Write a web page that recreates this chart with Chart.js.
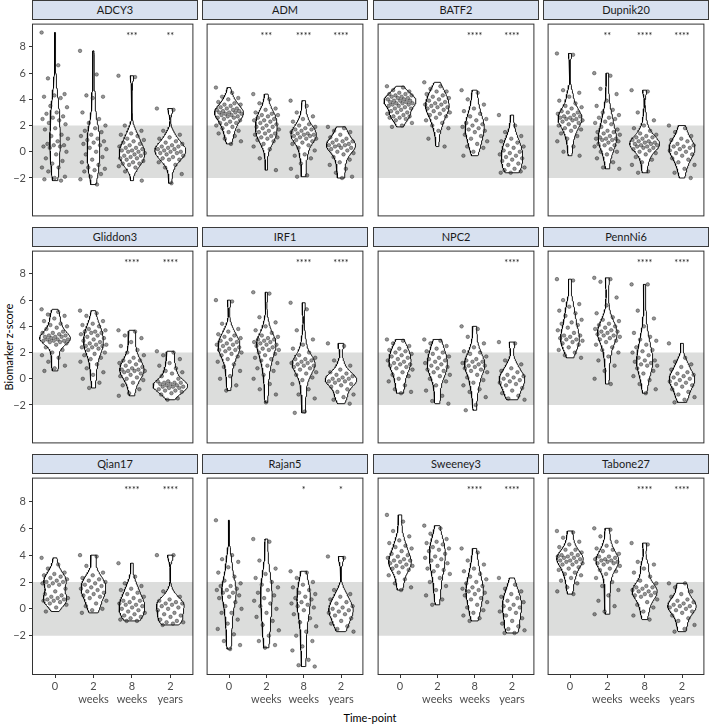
<!DOCTYPE html>
<html>
<head>
<meta charset="utf-8">
<script src="https://cdn.jsdelivr.net/npm/chart.js@4.4.1/dist/chart.umd.min.js"></script>
<style>
  body { margin: 0; background: #fff; width: 709px; height: 726px; position: relative; overflow: hidden; font-family: Lato, sans-serif; }
  .strip { position: absolute; height: 20px; background: #d8e1f0; border: 1px solid #3a3a3a; box-sizing: border-box; font-size: 11px; color: #1a1a1a; text-align: center; line-height: 18px; }
  canvas { position: absolute; }
  .ytitle { position: absolute; left: 8px; top: 347px; transform: translate(-50%, -50%) rotate(-90deg); font-size: 11px; color: #000; white-space: nowrap; }
  .xtitle { position: absolute; left: 370px; top: 717px; transform: translate(-50%, -50%); font-size: 11px; color: #000; white-space: nowrap; }
</style>
</head>
<body>
<div class="ytitle">Biomarker z-score</div>
<div class="xtitle">Time-point</div>
<script>
// panels and time-points
const markers = ['ADCY3', 'ADM', 'BATF2', 'Dupnik20', 'Gliddon3', 'IRF1', 'NPC2', 'PennNi6', 'Qian17', 'Rajan5', 'Sweeney3', 'Tabone27'];
const timepoints = [['0'], ['2', 'weeks'], ['8', 'weeks'], ['2', 'years']];
const yTicks = [-2, 0, 2, 4, 6, 8];
const bandLow = -2, bandHigh = 2;

// significance vs time-point 0
const stars = {
  ADCY3: ['', '', '***', '**'],
  ADM: ['', '***', '****', '****'],
  BATF2: ['', '', '****', '****'],
  Dupnik20: ['', '**', '****', '****'],
  Gliddon3: ['', '', '****', '****'],
  IRF1: ['', '', '****', '****'],
  NPC2: ['', '', '', '****'],
  PennNi6: ['', '', '****', '****'],
  Qian17: ['', '', '****', '****'],
  Rajan5: ['', '', '*', '*'],
  Sweeney3: ['', '', '****', '****'],
  Tabone27: ['', '', '****', '****']
};

// z-scores per time-point (0, 2 weeks, 8 weeks, 2 years)
const ADCY3 = [
  [9.1, 6.6, 5.6, 4.4, 4.3, 4.2, 4.1, 3.5, 3.4, 3.0, 2.9, 2.7, 2.6, 2.5, 2.4, 2.2, 2.1, 1.8, 1.7, 1.3, 1.2, 1.0, 0.8, 0.6, 0.5, 0.5, 0.4, 0.4, 0.3, 0.0, -0.2, -0.5, -0.7, -0.9, -1.2, -1.2, -1.5, -1.9, -2.0, -2.1, -2.2],
  [7.7, 5.9, 4.3, 4.2, 4.1, 3.0, 2.5, 2.2, 2.0, 1.8, 1.6, 1.5, 1.3, 1.2, 1.0, 0.9, 0.8, 0.7, 0.6, 0.5, 0.3, 0.2, 0.0, -0.2, -0.4, -0.6, -0.8, -1.0, -1.2, -1.3, -1.4, -1.5, -1.7, -1.9, -2.1, -2.5],
  [5.8, 5.7, 2.0, 1.6, 1.4, 1.3, 1.2, 1.0, 0.9, 0.8, 0.7, 0.6, 0.5, 0.4, 0.3, 0.3, 0.2, 0.1, 0.1, 0.0, 0.0, -0.1, -0.2, -0.3, -0.3, -0.4, -0.5, -0.5, -0.6, -0.7, -0.8, -0.9, -0.9, -1.0, -1.1, -1.2, -1.5, -2.2],
  [3.3, 3.2, 1.6, 1.3, 1.1, 1.0, 0.8, 0.7, 0.6, 0.5, 0.4, 0.4, 0.3, 0.2, 0.2, 0.1, 0.0, 0.0, -0.1, -0.1, -0.2, -0.3, -0.4, -0.5, -0.6, -0.6, -0.8, -1.0, -1.2, -1.7, -2.4]
];
const ADM = [
  [4.9, 4.5, 4.2, 4.1, 4.0, 3.8, 3.7, 3.6, 3.6, 3.5, 3.4, 3.3, 3.3, 3.2, 3.2, 3.1, 3.1, 3.0, 3.0, 3.0, 2.9, 2.9, 2.8, 2.8, 2.7, 2.7, 2.6, 2.6, 2.5, 2.4, 2.3, 2.2, 2.2, 2.1, 2.0, 1.9, 1.8, 1.6, 1.5, 1.4, 1.2, 1.0, 0.8, 0.6],
  [4.4, 4.0, 3.7, 3.3, 3.2, 3.0, 2.9, 2.8, 2.8, 2.7, 2.6, 2.5, 2.4, 2.4, 2.3, 2.2, 2.1, 2.0, 1.9, 1.9, 1.8, 1.7, 1.6, 1.5, 1.4, 1.4, 1.3, 1.2, 1.1, 1.1, 1.0, 0.9, 0.8, 0.6, 0.4, 0.2, -0.5, -1.4],
  [3.9, 3.5, 3.0, 2.7, 2.5, 2.3, 2.1, 2.0, 1.9, 1.8, 1.7, 1.7, 1.6, 1.5, 1.4, 1.4, 1.3, 1.3, 1.2, 1.2, 1.1, 1.0, 1.0, 0.9, 0.8, 0.7, 0.6, 0.5, 0.3, 0.1, -0.2, -0.3, -0.5, -0.9, -1.3, -1.8, -1.9],
  [1.9, 1.8, 1.6, 1.5, 1.3, 1.1, 1.0, 0.9, 0.8, 0.8, 0.7, 0.6, 0.5, 0.5, 0.5, 0.4, 0.3, 0.3, 0.2, 0.1, 0.0, -0.1, -0.2, -0.4, -0.6, -0.8, -1.0, -1.3, -1.6, -1.9, -2.0]
];
const BATF2 = [
  [5.0, 4.9, 4.7, 4.6, 4.5, 4.4, 4.4, 4.3, 4.3, 4.2, 4.2, 4.1, 4.1, 4.0, 4.0, 3.9, 3.9, 3.9, 3.8, 3.8, 3.7, 3.7, 3.7, 3.6, 3.6, 3.5, 3.5, 3.4, 3.3, 3.3, 3.2, 3.1, 3.0, 3.0, 2.9, 2.8, 2.7, 2.7, 2.6, 2.6, 2.5, 2.4, 2.2, 2.0, 1.9],
  [5.3, 5.0, 4.8, 4.6, 4.6, 4.4, 4.3, 4.2, 4.1, 4.0, 3.9, 3.8, 3.7, 3.6, 3.6, 3.5, 3.4, 3.4, 3.3, 3.2, 3.1, 3.0, 2.9, 2.8, 2.7, 2.6, 2.4, 2.2, 2.0, 1.8, 1.6, 1.0, 0.4],
  [4.7, 4.5, 4.0, 3.6, 3.3, 3.1, 2.9, 2.7, 2.5, 2.4, 2.2, 2.1, 2.0, 1.9, 1.8, 1.7, 1.6, 1.5, 1.3, 1.2, 1.0, 0.8, 0.6, 0.4, 0.3, 0.0, -0.3],
  [2.8, 2.0, 1.5, 1.2, 1.0, 0.8, 0.7, 0.5, 0.4, 0.3, 0.1, 0.0, -0.1, -0.2, -0.3, -0.4, -0.5, -0.6, -0.7, -0.9, -1.0, -1.2, -1.3, -1.4, -1.5, -1.6, -1.6]
];
const Dupnik20 = [
  [7.5, 7.4, 4.7, 4.5, 4.2, 3.9, 3.7, 3.5, 3.4, 3.3, 3.1, 3.0, 3.0, 2.9, 2.8, 2.7, 2.7, 2.6, 2.6, 2.5, 2.5, 2.4, 2.4, 2.3, 2.2, 2.1, 2.0, 1.9, 1.8, 1.7, 1.6, 1.4, 1.2, 1.0, 0.8, 0.4, 0.0, -0.3],
  [6.0, 5.8, 4.8, 4.4, 3.9, 3.5, 3.2, 3.0, 2.8, 2.6, 2.6, 2.5, 2.3, 2.2, 2.1, 1.9, 1.7, 1.6, 1.5, 1.5, 1.4, 1.3, 1.2, 1.1, 1.0, 1.0, 1.0, 0.9, 0.9, 0.8, 0.7, 0.6, 0.5, 0.5, 0.4, 0.2, 0.0, 0.0, -0.2, -0.5, -0.8, -1.2, -1.3],
  [4.7, 4.6, 3.0, 2.4, 2.0, 1.8, 1.6, 1.4, 1.3, 1.2, 1.1, 1.1, 1.0, 0.9, 0.8, 0.8, 0.7, 0.7, 0.6, 0.6, 0.5, 0.5, 0.4, 0.4, 0.3, 0.3, 0.2, 0.1, 0.0, -0.1, -0.2, -0.4, -0.6, -0.8, -1.0, -1.5, -1.6],
  [2.0, 1.8, 1.5, 1.2, 1.0, 0.9, 0.8, 0.6, 0.5, 0.4, 0.4, 0.3, 0.2, 0.1, 0.0, -0.1, -0.2, -0.3, -0.5, -0.6, -0.8, -1.0, -1.3, -1.6, -2.0]
];
const Gliddon3 = [
  [5.3, 5.1, 4.9, 4.8, 4.6, 4.4, 4.2, 4.1, 4.0, 3.9, 3.8, 3.6, 3.5, 3.5, 3.4, 3.3, 3.3, 3.2, 3.2, 3.2, 3.1, 3.0, 3.0, 3.0, 2.9, 2.9, 2.9, 2.8, 2.8, 2.7, 2.6, 2.4, 2.2, 2.0, 1.8, 1.6, 1.3, 1.0, 0.8, 0.6],
  [5.2, 5.0, 4.8, 4.4, 4.2, 4.1, 4.0, 3.8, 3.7, 3.6, 3.6, 3.5, 3.5, 3.4, 3.3, 3.2, 3.1, 3.0, 2.9, 2.8, 2.7, 2.6, 2.6, 2.5, 2.5, 2.4, 2.4, 2.3, 2.2, 2.0, 1.9, 1.8, 1.6, 1.5, 1.3, 1.1, 0.8, 0.5, 0.3, 0.0, -0.3, -0.7],
  [3.7, 3.6, 3.3, 3.1, 2.8, 2.5, 2.2, 2.0, 1.8, 1.6, 1.4, 1.4, 1.3, 1.2, 1.1, 1.0, 0.9, 0.8, 0.7, 0.7, 0.6, 0.6, 0.6, 0.5, 0.4, 0.3, 0.2, 0.1, 0.0, -0.1, -0.3, -0.5, -0.8, -1.1, -1.3],
  [2.1, 2.0, 1.8, 1.5, 1.2, 1.0, 0.8, 0.6, 0.5, 0.4, 0.2, 0.0, -0.2, -0.2, -0.3, -0.3, -0.3, -0.4, -0.4, -0.5, -0.5, -0.6, -0.6, -0.6, -0.7, -0.7, -0.8, -0.9, -0.9, -1.0, -1.1, -1.2, -1.5, -1.6]
];
const IRF1 = [
  [6.0, 5.9, 4.2, 3.8, 3.6, 3.4, 3.3, 3.2, 3.1, 3.0, 2.9, 2.8, 2.7, 2.6, 2.6, 2.5, 2.4, 2.3, 2.2, 2.2, 2.1, 2.0, 1.9, 1.8, 1.7, 1.5, 1.3, 1.1, 0.9, 0.6, 0.2, 0.0, -0.5, -0.9],
  [6.6, 6.5, 4.7, 4.3, 4.0, 3.7, 3.5, 3.3, 3.2, 3.1, 3.0, 3.0, 2.9, 2.8, 2.8, 2.7, 2.6, 2.6, 2.5, 2.4, 2.3, 2.2, 2.2, 2.0, 1.9, 1.8, 1.6, 1.5, 1.4, 1.2, 1.0, 0.8, 0.6, 0.3, 0.0, -0.4, -0.8, -1.2, -1.8],
  [5.8, 5.3, 3.7, 3.0, 2.6, 2.3, 2.0, 1.8, 1.6, 1.5, 1.5, 1.4, 1.3, 1.2, 1.2, 1.1, 1.0, 1.0, 0.9, 0.8, 0.7, 0.5, 0.4, 0.3, 0.1, -0.1, -0.4, -0.8, -1.2, -1.5, -2.5, -2.6],
  [2.7, 2.5, 1.4, 1.0, 0.7, 0.5, 0.4, 0.3, 0.2, 0.1, 0.0, 0.0, -0.1, -0.2, -0.2, -0.3, -0.4, -0.5, -0.6, -0.8, -1.0, -1.2, -1.4, -1.6, -1.9]
];
const NPC2 = [
  [3.0, 2.9, 2.7, 2.5, 2.3, 2.2, 2.1, 2.0, 1.9, 1.8, 1.7, 1.6, 1.5, 1.4, 1.3, 1.2, 1.1, 1.1, 1.0, 0.9, 0.8, 0.7, 0.5, 0.3, 0.2, 0.0, -0.2, -0.5, -0.8, -1.0, -1.1],
  [3.0, 2.9, 2.7, 2.5, 2.3, 2.1, 2.0, 1.9, 1.7, 1.6, 1.5, 1.4, 1.3, 1.2, 1.1, 1.0, 0.9, 0.8, 0.7, 0.6, 0.5, 0.3, 0.2, 0.0, -0.2, -0.5, -0.9, -1.3, -1.7, -1.9],
  [4.0, 3.8, 3.2, 2.7, 2.4, 2.1, 2.0, 1.9, 1.7, 1.5, 1.4, 1.3, 1.3, 1.2, 1.1, 1.0, 1.0, 0.9, 0.8, 0.7, 0.6, 0.5, 0.3, 0.1, -0.1, -0.3, -0.5, -0.8, -1.0, -1.4, -2.0, -2.4],
  [2.8, 2.7, 1.4, 1.1, 0.8, 0.6, 0.5, 0.3, 0.2, 0.1, 0.0, -0.1, -0.2, -0.3, -0.4, -0.5, -0.7, -0.9, -1.1, -1.3, -1.5, -1.6]
];
const PennNi6 = [
  [7.6, 7.5, 6.0, 5.7, 5.5, 5.2, 5.0, 4.8, 4.5, 4.3, 4.2, 4.1, 3.9, 3.7, 3.5, 3.3, 3.3, 3.2, 3.1, 3.0, 3.0, 2.9, 2.8, 2.7, 2.6, 2.4, 2.2, 2.0, 1.8, 1.6],
  [7.7, 7.6, 7.4, 6.2, 5.6, 5.0, 4.7, 4.5, 4.4, 4.2, 4.1, 4.0, 3.9, 3.8, 3.7, 3.6, 3.6, 3.5, 3.4, 3.3, 3.3, 3.2, 3.1, 3.0, 2.9, 2.8, 2.6, 2.4, 2.2, 2.0, 1.7, 1.4, 1.0, 0.6, 0.0, -0.4],
  [7.2, 7.2, 5.2, 4.6, 4.0, 3.5, 3.2, 3.0, 2.9, 2.6, 2.4, 2.2, 2.1, 2.0, 1.8, 1.6, 1.4, 1.4, 1.3, 1.2, 1.1, 1.0, 1.0, 0.8, 0.6, 0.4, 0.2, -0.1, -0.4, -0.8, -1.1],
  [2.7, 1.6, 1.3, 1.1, 0.9, 0.7, 0.5, 0.4, 0.3, 0.2, 0.1, 0.0, -0.1, -0.2, -0.3, -0.4, -0.5, -0.6, -0.8, -1.0, -1.2, -1.4, -1.6, -1.8]
];
const Qian17 = [
  [3.8, 3.3, 3.0, 2.7, 2.6, 2.5, 2.4, 2.3, 2.2, 2.1, 2.0, 2.0, 1.9, 1.9, 1.8, 1.7, 1.5, 1.3, 1.1, 1.0, 0.9, 0.8, 0.8, 0.7, 0.7, 0.6, 0.6, 0.5, 0.4, 0.3, 0.1, -0.2],
  [4.0, 3.9, 3.2, 2.7, 2.5, 2.3, 2.2, 2.1, 2.0, 1.9, 1.8, 1.7, 1.6, 1.5, 1.4, 1.3, 1.2, 1.1, 1.0, 0.9, 0.8, 0.6, 0.4, 0.2, 0.0, -0.1, -0.3],
  [3.4, 2.4, 1.9, 1.7, 1.5, 1.4, 1.2, 1.1, 0.9, 0.8, 0.6, 0.6, 0.5, 0.4, 0.3, 0.3, 0.2, 0.1, 0.0, -0.1, -0.2, -0.3, -0.4, -0.5, -0.6, -0.7, -0.8, -0.9, -0.9],
  [4.0, 4.0, 1.3, 0.9, 0.7, 0.6, 0.5, 0.4, 0.4, 0.3, 0.2, 0.1, 0.0, -0.1, -0.3, -0.4, -0.5, -0.6, -0.8, -0.9, -1.0, -1.0, -1.1, -1.2]
];
const Rajan5 = [
  [6.6, 4.0, 3.7, 3.5, 3.1, 2.7, 2.4, 2.1, 1.9, 1.7, 1.7, 1.5, 1.4, 1.4, 1.2, 1.2, 1.0, 0.9, 0.8, 0.5, 0.2, 0.0, -0.3, -0.3, -0.8, -1.1, -1.5, -1.9, -2.4, -2.7, -3.0],
  [5.2, 5.0, 3.6, 3.0, 2.6, 2.3, 2.0, 1.8, 1.6, 1.4, 1.2, 1.0, 0.8, 0.6, 0.4, 0.2, 0.0, -0.3, -0.6, -0.9, -1.2, -1.6, -2.0, -2.4, -2.7, -2.9],
  [2.8, 2.7, 2.3, 2.0, 1.8, 1.6, 1.4, 1.2, 1.1, 0.9, 0.8, 0.7, 0.5, 0.4, 0.3, 0.2, 0.1, -0.1, -0.4, -0.7, -1.0, -1.3, -1.7, -2.0, -2.4, -2.8, -3.1, -3.8, -4.2, -4.3],
  [3.9, 3.8, 1.4, 1.1, 0.9, 0.7, 0.5, 0.4, 0.2, 0.1, 0.0, -0.1, -0.2, -0.3, -0.4, -0.5, -0.7, -0.9, -1.1, -1.3, -1.5, -1.7]
];
const Sweeney3 = [
  [7.0, 6.5, 5.8, 5.4, 5.1, 4.9, 4.7, 4.6, 4.5, 4.3, 4.1, 4.0, 3.9, 3.8, 3.7, 3.6, 3.6, 3.5, 3.4, 3.3, 3.2, 3.2, 3.1, 3.0, 2.9, 2.7, 2.5, 2.2, 1.9, 1.6, 1.4],
  [6.2, 6.0, 5.6, 5.2, 5.0, 4.9, 4.8, 4.6, 4.5, 4.4, 4.3, 4.1, 3.9, 3.8, 3.7, 3.6, 3.4, 3.2, 3.0, 2.9, 2.8, 2.6, 2.3, 2.0, 1.7, 1.4, 1.0, 0.7, 0.3],
  [4.5, 4.2, 3.6, 3.3, 3.0, 2.8, 2.6, 2.4, 2.2, 2.0, 1.9, 1.7, 1.6, 1.5, 1.4, 1.3, 1.2, 1.1, 1.0, 0.8, 0.7, 0.5, 0.3, 0.1, -0.1, -0.3, -0.5, -0.7, -0.9],
  [2.3, 1.8, 1.5, 1.3, 1.1, 0.9, 0.8, 0.6, 0.5, 0.3, 0.2, 0.1, 0.0, -0.2, -0.3, -0.5, -0.7, -0.9, -1.1, -1.3, -1.5, -1.6, -1.8, -1.8]
];
const Tabone27 = [
  [5.8, 5.7, 5.3, 5.0, 4.8, 4.6, 4.4, 4.4, 4.2, 4.1, 4.0, 4.0, 3.9, 3.9, 3.8, 3.8, 3.7, 3.6, 3.6, 3.5, 3.5, 3.4, 3.3, 3.3, 3.1, 3.0, 2.9, 2.7, 2.6, 2.5, 2.3, 2.1, 1.9, 1.6, 1.3, 1.1],
  [6.0, 5.9, 5.4, 5.0, 4.7, 4.5, 4.4, 4.3, 4.1, 3.9, 3.9, 3.8, 3.7, 3.7, 3.6, 3.6, 3.5, 3.5, 3.4, 3.4, 3.3, 3.2, 3.0, 2.9, 2.8, 2.6, 2.3, 2.0, 1.7, 1.4, 1.0, 0.6, 0.2, -0.2, -0.4],
  [4.9, 4.8, 3.5, 3.3, 3.0, 2.7, 2.4, 2.1, 1.9, 1.7, 1.6, 1.6, 1.5, 1.4, 1.3, 1.3, 1.2, 1.1, 1.0, 1.0, 0.9, 0.7, 0.5, 0.3, 0.1, -0.2, -0.5, -0.8],
  [1.9, 1.9, 1.6, 1.3, 1.1, 0.9, 0.7, 0.6, 0.5, 0.4, 0.3, 0.2, 0.2, 0.1, 0.0, -0.1, -0.2, -0.3, -0.5, -0.7, -0.9, -1.2, -1.5, -1.7]
];

const values = { ADCY3, ADM, BATF2, Dupnik20, Gliddon3, IRF1, NPC2, PennNi6, Qian17, Rajan5, Sweeney3, Tabone27 };

// layout
const colLeft = [32, 202, 373, 543];
const rowTop = [0, 227, 454];
const plotW = 165, plotH = 202, stripH = 19, yAxisW = 32, xAxisH = 40;
const yMin = -4.93, yMax = 9.78, xMin = -0.6, xMax = 3.6;
const violinHalf = 0.45;

// kernel density (gaussian, nrd0 bandwidth), trimmed to data range
function quantile(s, q) {
  const h = (s.length - 1) * q, lo = Math.floor(h);
  return s[lo] + (h - lo) * ((s[lo + 1] ?? s[lo]) - s[lo]);
}
function density(vals) {
  const s = [...vals].sort((a, b) => a - b), n = s.length;
  const mean = s.reduce((a, b) => a + b, 0) / n;
  const sd = Math.sqrt(s.reduce((a, b) => a + (b - mean) ** 2, 0) / (n - 1));
  const iqr = quantile(s, 0.75) - quantile(s, 0.25);
  const bw = 0.9 * Math.min(sd, iqr / 1.34) * Math.pow(n, -0.2);
  const grid = [];
  for (let g = 0; g <= 80; g++) {
    const y = s[0] + (s[n - 1] - s[0]) * g / 80;
    let d = 0;
    for (const v of s) d += Math.exp(-0.5 * ((y - v) / bw) ** 2);
    grid.push({ y, d: d / (n * bw * Math.sqrt(2 * Math.PI)) });
  }
  return grid;
}
const dens = {};
let maxD = 0;
markers.forEach(m => {
  dens[m] = values[m].map(density);
  dens[m].forEach(g => g.forEach(p => { maxD = Math.max(maxD, p.d); }));
});

function violinOutline(grid, i) {
  const right = grid.map(p => ({ x: i + violinHalf * p.d / maxD, y: p.y }));
  const left = grid.slice().reverse().map(p => ({ x: i - violinHalf * p.d / maxD, y: p.y }));
  return [...right, ...left, right[0]];
}
const jit = k => (((k * 0.6180339887) % 1) - 0.5) * 0.7;

Chart.defaults.font.family = 'Lato, sans-serif';
Chart.defaults.font.size = 11;
Chart.defaults.color = '#4d4d4d';

markers.forEach((m, p) => {
  const r = Math.floor(p / 4), c = p % 4;
  const showX = r === 2, showY = c === 0;

  const strip = document.createElement('div');
  strip.className = 'strip';
  strip.style.left = colLeft[c] + 'px';
  strip.style.top = rowTop[r] + 'px';
  strip.style.width = (plotW + 1) + 'px';
  strip.textContent = m;
  document.body.appendChild(strip);

  const cv = document.createElement('canvas');
  const left = showY ? colLeft[0] - yAxisW : colLeft[c];
  cv.width = (showY ? yAxisW : 0) + plotW + 1;
  cv.height = plotH + (showX ? xAxisH : 0);
  cv.style.left = left + 'px';
  cv.style.top = (rowTop[r] + stripH) + 'px';
  document.body.appendChild(cv);

  const datasets = [];
  values[m].forEach((vals, i) => {
    datasets.push({
      data: vals.map((v, k) => ({ x: i + jit(k), y: v })),
      pointRadius: 1.8,
      backgroundColor: 'rgba(45,45,45,0.5)',
      borderColor: 'rgba(0,0,0,0.55)',
      borderWidth: 0.6,
      order: 0
    });
    datasets.push({
      data: violinOutline(dens[m][i], i),
      showLine: true,
      fill: 'shape',
      backgroundColor: '#ffffff',
      borderColor: '#000000',
      borderWidth: 0.9,
      pointRadius: 0,
      order: 1
    });
  });
  datasets.push({
    data: [{ x: xMin, y: bandHigh }, { x: xMax, y: bandHigh }],
    showLine: true,
    fill: { target: { value: bandLow } },
    backgroundColor: '#dcdddc',
    borderWidth: 0,
    pointRadius: 0,
    order: 2
  });

  const panelPlugin = {
    id: 'panel' + p,
    afterDatasetsDraw(chart) {
      const { ctx, chartArea: a, scales } = chart;
      ctx.save();
      ctx.fillStyle = '#1a1a1a';
      ctx.font = '9px Lato, sans-serif';
      ctx.textAlign = 'center';
      ctx.textBaseline = 'middle';
      stars[m].forEach((s, i) => {
        if (s) ctx.fillText(s, scales.x.getPixelForValue(i), scales.y.getPixelForValue(8.85));
      });
      ctx.strokeStyle = '#333333';
      ctx.lineWidth = 1;
      ctx.strokeRect(a.left + 0.5, a.top + 0.5, a.right - a.left - 1, a.bottom - a.top - 1);
      ctx.restore();
    }
  };

  new Chart(cv, {
    type: 'scatter',
    data: { datasets },
    options: {
      responsive: false,
      animation: false,
      events: [],
      layout: { padding: 0 },
      plugins: { legend: { display: false }, tooltip: { enabled: false } },
      scales: {
        x: {
          type: 'linear', min: xMin, max: xMax,
          display: showX,
          afterBuildTicks: s => { s.ticks = [0, 1, 2, 3].map(v => ({ value: v })); },
          afterFit: s => { s.height = showX ? xAxisH : 0; s.paddingLeft = 0; s.paddingRight = 0; },
          ticks: { callback: v => timepoints[v], padding: 2, color: '#4d4d4d', font: { size: 11 }, maxRotation: 0, autoSkip: false },
          grid: { display: true, drawOnChartArea: false, drawTicks: true, tickLength: 3, color: '#333' },
          border: { display: false }
        },
        y: {
          type: 'linear', min: yMin, max: yMax,
          display: showY,
          afterBuildTicks: s => { s.ticks = yTicks.map(v => ({ value: v })); },
          afterFit: s => { s.width = showY ? yAxisW : 0; s.paddingTop = 0; s.paddingBottom = 0; },
          ticks: { callback: v => String(v).replace('-', '\u2212'), padding: 3, color: '#4d4d4d', font: { size: 11 } },
          grid: { display: true, drawOnChartArea: false, drawTicks: true, tickLength: 3, color: '#333' },
          border: { display: false }
        }
      }
    },
    plugins: [panelPlugin]
  });
});
</script>
</body>
</html>
